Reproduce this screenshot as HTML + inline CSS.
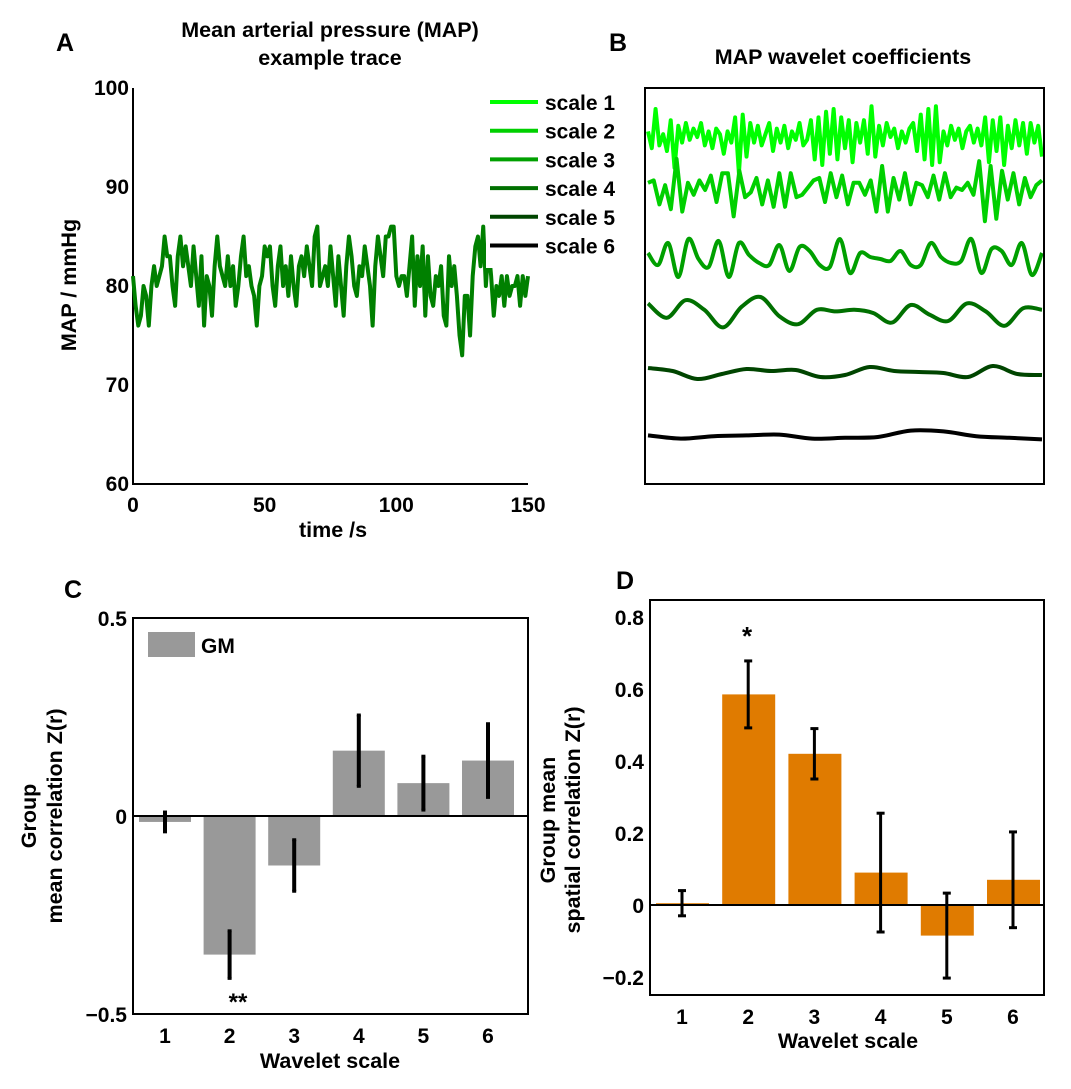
<!DOCTYPE html>
<html><head><meta charset="utf-8"><style>
body{margin:0;background:#fff}
svg text{font-family:"Liberation Sans",Arial,sans-serif;font-weight:bold}
</style></head><body>
<svg id="c" width="1071" height="1084" xmlns="http://www.w3.org/2000/svg"></svg>
<script>
const mapValues=[81,78,76,77,80,79,76,80,82,80,81,82,85,83,83,80,78,83,85,82,84,82,80,84,81,78,83,76,81,80,77,82,85,82,81,80,83,80,82,78,80,83,85,81,82,80,79,76,80,81,84,83,84,80,78,82,84,80,82,79,83,80,78,82,83,81,84,82,80,85,86,80,81,82,80,84,81,78,83,80,77,82,85,83,80,79,82,81,84,82,80,76,82,85,83,81,85,85,86,86,81,80,81,81,79,82,85,78,83,80,84,77,83,79,78,81,80,82,77,76,83,80,82,79,75,73,79,79,75,81,84,85,82,86,80,84,81,77,80,79,81,78,81,79,80,80,81,78,81,79,81];
const aXTicks=[0,50,100,150];
const aYTicks=[60,70,80,90,100];
const scale1=[0.2,-0.4,1.0,-0.3,0.1,-0.5,0.6,-1.1,0.4,-0.2,0.5,-0.1,0.3,0.0,0.5,-0.3,0.2,-0.4,0.3,0.1,-0.6,0.2,-0.2,0.7,-1.3,0.8,-0.7,0.5,-0.2,0.4,-0.3,0.1,0.5,-0.5,0.3,-0.2,0.4,-0.4,0.2,-0.1,0.5,-0.3,-0.1,0.6,-0.8,0.7,-1.0,0.9,-0.6,1.0,-0.8,0.7,-0.4,0.6,-0.9,0.5,-0.2,0.6,-0.6,1.1,-0.7,0.4,-0.3,0.5,0.0,0.3,-0.4,0.2,-0.2,0.3,0.5,-0.5,0.8,-0.8,1.0,-1.0,1.1,-0.9,0.2,-0.3,0.4,-0.1,0.3,-0.4,0.2,0.4,-0.2,0.3,-0.3,0.7,-0.9,0.6,-0.5,0.7,-1.0,0.4,-0.4,0.6,-0.3,0.5,-0.6,0.5,-0.2,0.4,-0.7];
const scale2=[0.3,0.4,-0.6,0.2,-0.8,1.3,-0.9,0.3,-0.2,0.4,0.0,0.6,-0.5,0.7,0.7,-1.1,0.8,-0.3,-0.1,0.5,-0.6,0.4,-0.7,0.7,-0.7,0.7,-0.3,-0.2,0.1,0.4,0.5,-0.5,0.7,-0.3,0.6,-0.6,0.3,0.3,-0.2,0.4,-0.9,1.0,-0.9,0.5,-0.4,0.7,-0.6,0.3,0.2,-0.3,0.6,-0.4,0.7,-0.3,0.1,0.0,0.3,-0.2,1.2,-1.3,1.0,-1.2,0.8,-0.4,0.7,-0.6,0.5,-0.3,0.2,0.4];
const scale3=[0.2,-0.4,0.7,-1.0,0.9,-0.1,-0.5,0.8,-1.0,0.7,0.1,-0.3,-0.4,0.6,-0.7,0.5,0.3,-0.4,-0.5,0.9,-0.8,0.2,0.0,-0.1,-0.2,0.3,-0.4,-0.4,0.7,0.0,-0.3,-0.2,0.9,-0.8,0.4,0.3,-0.4,0.7,-0.9,0.2];
const scale4=[0.6,-0.3,0.8,0.2,-0.9,0.4,1.0,-0.2,-0.7,0.2,0.1,0.2,0.0,-0.6,0.5,-0.1,-0.5,0.6,0.1,-0.8,0.3,0.2];
const scale5=[0.5,0.2,-0.6,-0.1,0.4,0.2,0.3,-0.4,-0.2,0.6,0.2,0.1,0.0,-0.4,0.7,-0.1,-0.2];
const scale6=[0.2,-0.2,0.1,0.2,0.3,-0.2,-0.1,0.0,0.8,0.7,0.1,-0.1,-0.3];
const cCats=[1,2,3,4,5,6];
const cValues=[-0.015,-0.35,-0.125,0.165,0.083,0.14];
const cErrors=[0.025,0.06,0.065,0.09,0.068,0.093];
const cYTicks=[-0.5,0,0.5];
const cYTickLabels=["\u22120.5","0","0.5"];
const dCats=[1,2,3,4,5,6];
const dValues=[0.005,0.585,0.42,0.09,-0.085,0.07];
const dErrors=[0.035,0.093,0.07,0.165,0.118,0.133];
const dYTicks=[-0.2,0,0.2,0.4,0.6,0.8];
const dYTickLabels=["\u22120.2","0","0.2","0.4","0.6","0.8"];

const S=document.getElementById('c');const NS='http://www.w3.org/2000/svg';
function el(t,a,txt){const e=document.createElementNS(NS,t);for(const k in a)e.setAttribute(k,a[k]);if(txt!==undefined)e.textContent=txt;S.appendChild(e);return e;}
function tx(x,y,s,size,anchor,name,rot){const e=el('text',{x:x,y:y,'font-size':size,'text-anchor':anchor||'middle'},s);if(rot)e.setAttribute('transform','rotate(-90 '+x+' '+y+')');return e;}
function smooth(p){let d='M'+p[0][0]+','+p[0][1];for(let i=0;i<p.length-1;i++){const p0=p[i-1]||p[i],p1=p[i],p2=p[i+1],p3=p[i+2]||p2;d+=' C'+(p1[0]+(p2[0]-p0[0])/6)+','+(p1[1]+(p2[1]-p0[1])/6)+' '+(p2[0]-(p3[0]-p1[0])/6)+','+(p2[1]-(p3[1]-p1[1])/6)+' '+p2[0]+','+p2[1];}return d;}

tx(65,51,'A',25,'middle','panel-label-a');tx(618,51,'B',25,'middle','panel-label-b');
tx(73,598,'C',25,'middle','panel-label-c');tx(625,589,'D',25,'middle','panel-label-d');
tx(330,37,'Mean arterial pressure (MAP)',21.5,'middle','title-a');tx(330,65,'example trace',21.5,'middle','title-a-line2');
tx(843,64,'MAP wavelet coefficients',21.5,'middle','title-b');

const ax=v=>133+(v-0)/150*395, ay=v=>484-(v-60)/40*396;
let l=el('line',{x1:133,y1:88,x2:133,y2:485,stroke:'#000','stroke-width':2});
l=el('line',{x1:132,y1:484,x2:528,y2:484,stroke:'#000','stroke-width':2});
aXTicks.forEach(t=>{tx(ax(t),512,String(t),21,'middle','a-x-tick');});
aYTicks.forEach(t=>{tx(129,ay(t)+7,String(t),21,'end','a-y-tick');});
tx(333,537,'time /s',21.5,'middle','a-x-axis-title');tx(76,285,'MAP / mmHg',21.5,'middle','a-y-axis-title',true);
let tr=el('polyline',{points:mapValues.map((v,i)=>ax(i)+','+ay(v)).join(' '),fill:'none',stroke:'#008000','stroke-width':4,'stroke-linejoin':'round'});


const bx0=648,bx1=1042;
const series=[[scale1,137,28,'#00ff00',false],[scale2,190,24,'#00d000',false],[scale3,257,20,'#00a000',true],[scale4,313,16,'#007000',true],[scale5,373,10,'#004500',true],[scale6,437,8,'#000000',true]];
series.forEach((s,k)=>{const d=s[0];const pts=d.map((v,i)=>[bx0+i/(d.length-1)*(bx1-bx0),s[1]-v*s[2]]);
 let p;if(s[4])p=el('path',{d:smooth(pts),fill:'none',stroke:s[3],'stroke-width':4});else p=el('polyline',{points:pts.map(q=>q.join(',')).join(' '),fill:'none',stroke:s[3],'stroke-width':4,'stroke-linejoin':'round'});
 });
let bb=el('rect',{x:645,y:88,width:399,height:396,fill:'none',stroke:'#000','stroke-width':2});
let lg=el('rect',{x:486,y:90,width:157,height:178,fill:'#fff'});
series.forEach((s,k)=>{const y=102+k*28.7;el('line',{x1:490,y1:y,x2:538,y2:y,stroke:s[3],'stroke-width':4});tx(545,y+8,'scale '+(k+1),21,'start','legend-scale-'+(k+1));});

const cx=c=>165+(c-1)*64.6, cy=v=>816-v*396;
cCats.forEach((c,i)=>{const v=cValues[i];let r=el('rect',{x:cx(c)-26,y:Math.min(cy(v),cy(0)),width:52,height:Math.abs(cy(v)-cy(0)),fill:'#999'});
 const e=cErrors[i];el('line',{x1:cx(c),y1:cy(v+e),x2:cx(c),y2:cy(v-e),stroke:'#000','stroke-width':4});el('line',{x1:cx(c)-2,y1:cy(v+e),x2:cx(c)+2,y2:cy(v+e),stroke:'#000','stroke-width':3});el('line',{x1:cx(c)-2,y1:cy(v-e),x2:cx(c)+2,y2:cy(v-e),stroke:'#000','stroke-width':3});
 tx(cx(c),1043,String(c),21,'middle','c-x-tick');});
el('line',{x1:133,y1:cy(0),x2:528,y2:cy(0),stroke:'#000','stroke-width':2});
let cb=el('rect',{x:133,y:618,width:395,height:396,fill:'none',stroke:'#000','stroke-width':2});
cYTicks.forEach((t,i)=>tx(127,cy(t)+8,cYTickLabels[i],21,'end','c-y-tick'));
tx(330,1068,'Wavelet scale',21.5,'middle','c-x-axis-title');tx(238,1010,'**',24,'middle','c-significance');
tx(36,816,'Group',21.5,'middle','c-y-axis-title',true);tx(62,816,'mean correlation Z(r)',21.5,'middle','c-y-axis-title-line2',true);
let gr=el('rect',{x:148,y:632,width:47,height:25,fill:'#999'});
tx(201,653,'GM',21,'start','c-legend-label');

const dx=c=>682+(c-1)*66.2, dy=v=>905-v*36/0.1;
dCats.forEach((c,i)=>{const v=dValues[i];let r=el('rect',{x:dx(c)-26,y:Math.min(dy(v),dy(0)),width:53,height:Math.abs(dy(v)-dy(0)),fill:'#e07b00'});
 const e=dErrors[i];el('line',{x1:dx(c),y1:dy(v+e),x2:dx(c),y2:dy(v-e),stroke:'#000','stroke-width':3});el('line',{x1:dx(c)-4,y1:dy(v+e),x2:dx(c)+4,y2:dy(v+e),stroke:'#000','stroke-width':3});el('line',{x1:dx(c)-4,y1:dy(v-e),x2:dx(c)+4,y2:dy(v-e),stroke:'#000','stroke-width':3});
 tx(dx(c),1024,String(c),21,'middle','d-x-tick');});
el('line',{x1:650,y1:dy(0),x2:1044,y2:dy(0),stroke:'#000','stroke-width':2});
let db=el('rect',{x:650,y:600,width:394,height:395,fill:'none',stroke:'#000','stroke-width':2});
dYTicks.forEach((t,i)=>tx(644,dy(t)+8,dYTickLabels[i],21,'end','d-y-tick'));
tx(848,1048,'Wavelet scale',21.5,'middle','d-x-axis-title');tx(747,645,'*',26,'middle','d-significance');
tx(555,820,'Group mean',21.5,'middle','d-y-axis-title',true);tx(580,820,'spatial correlation Z(r)',21.5,'middle','d-y-axis-title-line2',true);
</script>
</body></html>
